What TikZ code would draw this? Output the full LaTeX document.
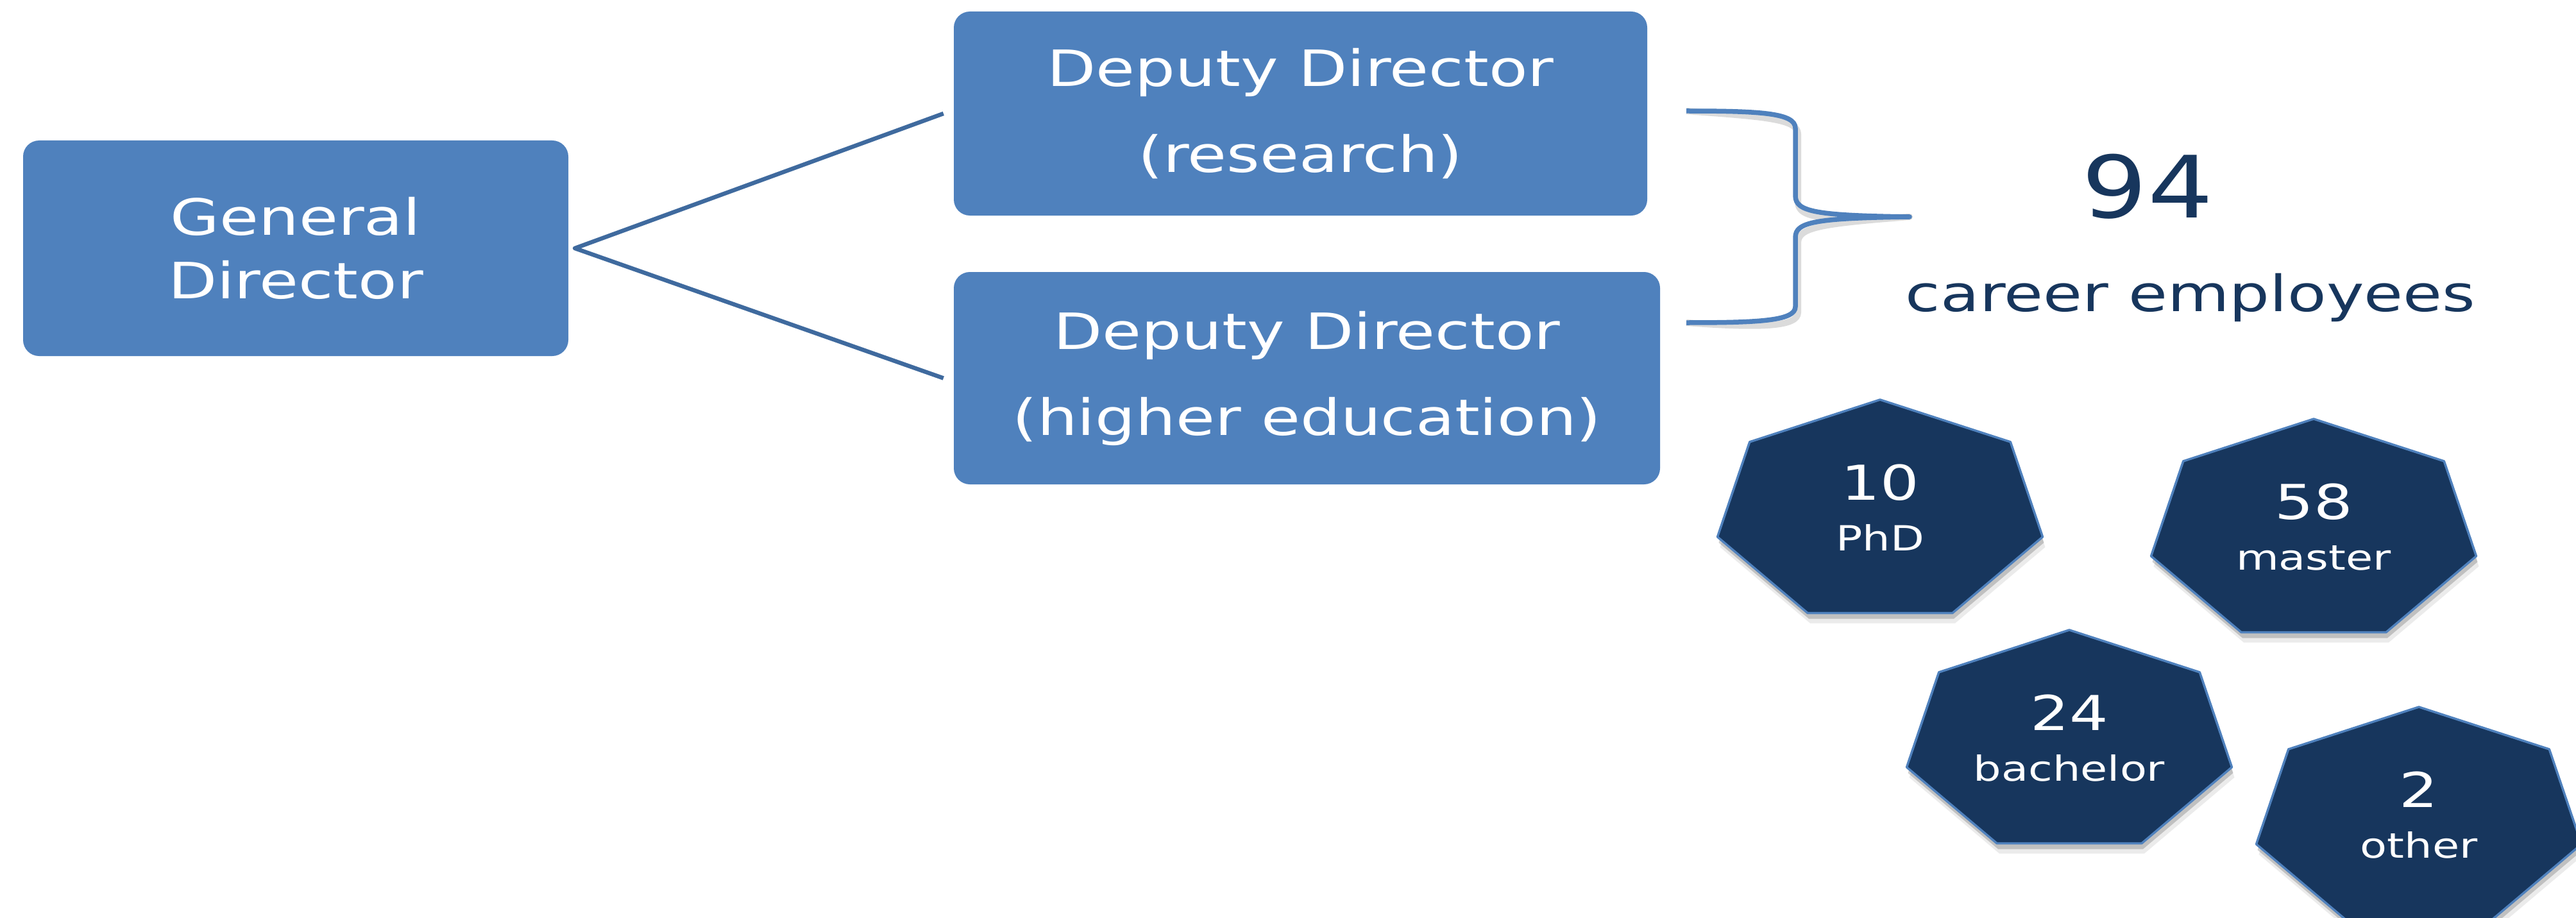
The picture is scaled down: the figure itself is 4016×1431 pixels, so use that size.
\documentclass[tikz,border=0pt]{standalone}
\usepackage{fontspec}
\setmainfont{DejaVu Sans}[FakeStretch=1.27]
\newfontfamily\bigfont{DejaVu Sans}[FakeStretch=1.2]
\usetikzlibrary{calc}
\definecolor{boxblue}{HTML}{4F81BD}
\definecolor{linkblue}{HTML}{3F6A9E}
\definecolor{navy}{HTML}{17365D}
\tikzset{
  orgbox/.style={rectangle, rounded corners=25pt, fill=boxblue, text=white,
    align=center, inner sep=0pt, font=\fontsize{78}{134}\selectfont},
  link/.style={draw=linkblue, line width=6.5pt, line join=round},
  bracepen/.style={draw=boxblue, line width=7.5pt, line join=round},
  braceshadow/.style={draw=black, opacity=0.14, line width=10pt, line join=round},
  numtxt/.style={anchor=base, text=white, inner sep=0pt, font=\fontsize{75}{75}\selectfont},
  labtxt/.style={anchor=base, text=white, inner sep=0pt, font=\fontsize{54}{54}\selectfont},
  navytxt/.style={anchor=base, text=navy, inner sep=0pt}
}
\newcommand\heptagon[5]{%
  \begin{scope}[shift={(#2,#3)}]
    \fill[black, opacity=0.08, shift={(4,16)}] (0,-175) -- (203.3,-109.1) -- (253.5,38.9) -- (112.8,157.7) -- (-112.8,157.7) -- (-253.5,38.9) -- (-203.3,-109.1) -- cycle;
    \fill[black, opacity=0.18, shift={(2,9)}] (0,-175) -- (203.3,-109.1) -- (253.5,38.9) -- (112.8,157.7) -- (-112.8,157.7) -- (-253.5,38.9) -- (-203.3,-109.1) -- cycle;
    \filldraw[fill=navy, draw=boxblue, line width=3.5pt, line join=round] (0,-175) -- (203.3,-109.1) -- (253.5,38.9) -- (112.8,157.7) -- (-112.8,157.7) -- (-253.5,38.9) -- (-203.3,-109.1) -- cycle;
  \end{scope}
  \node[numtxt] (#1-n) at (#2,#3-19) {#4};
  \node[labtxt] (#1-l) at (#2,#3+60) {#5};
}
\begin{document}
\begin{tikzpicture}[x=1pt,y=-1pt]
\useasboundingbox (0,0) rectangle (4016,1431);
\fill[white] (0,0) rectangle (4016,1431);

% boxes
\node[orgbox, minimum width=850pt, minimum height=336pt, font=\fontsize{78}{99}\selectfont]
  (gd) at (461,387) {General\\Director};
\node[orgbox, minimum width=1081pt, minimum height=318pt]
  (dr) at (2027.5,177) {Deputy Director\\(research)};
\node[orgbox, minimum width=1101pt, minimum height=331pt]
  (de) at (2037.5,589.5) {Deputy Director\\(higher education)};

% connectors
\draw[link] ([xshift=-16pt]dr.west) -- ([xshift=10pt]gd.east) -- ([xshift=-16pt]de.west);

% brace
\coordinate (b1) at (2629,173);
\coordinate (b2) at (2629,503);
\coordinate (tip) at (2977,338);
\begin{scope}[shift={(4,9)}]
\draw[braceshadow] (b1) .. controls (2745,173) and (2799,176) .. (2799,200) -- (2799,305)
   .. controls (2799,330) and (2830,336) .. (tip)
   .. controls (2830,340) and (2799,346) .. (2799,370) -- (2799,478)
   .. controls (2799,500) and (2745,503) .. (b2);
\end{scope}
\draw[bracepen] (b1) .. controls (2745,173) and (2799,176) .. (2799,200) -- (2799,305)
   .. controls (2799,330) and (2830,336) .. (tip)
   .. controls (2830,340) and (2799,346) .. (2799,370) -- (2799,478)
   .. controls (2799,500) and (2745,503) .. (b2);

% totals
\node[navytxt, font=\bigfont\fontsize{134}{134}\selectfont] (total) at (3348,340) {94};
\node[navytxt, font=\fontsize{78}{78}\selectfont] (career) at (3415,485) {career employees};

% heptagons
\heptagon{phd}{2931}{798}{10}{PhD}
\heptagon{mas}{3607}{828}{58}{master}
\heptagon{bac}{3226}{1157}{24}{bachelor}
\heptagon{oth}{3771}{1277}{2}{other}
\end{tikzpicture}
\end{document}
